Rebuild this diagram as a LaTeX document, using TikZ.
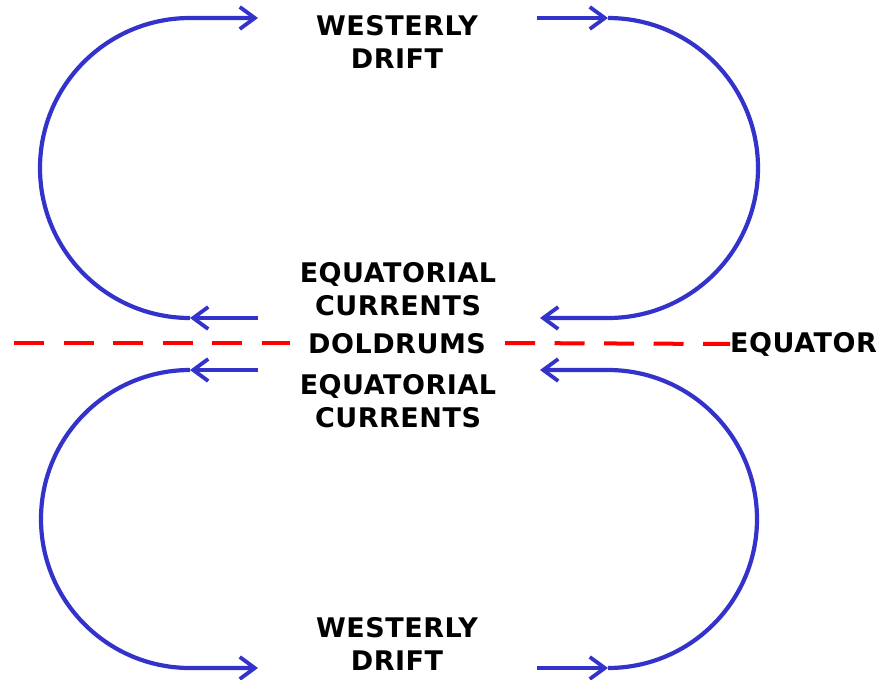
\documentclass[tikz,border=0pt]{standalone}
\usepackage{fontspec}
\usetikzlibrary{arrows.meta}
\newfontfamily\lblfont[LetterSpace=2]{DejaVu Sans}
\definecolor{current}{RGB}{51,51,204}
\definecolor{equator}{RGB}{255,0,0}
\begin{document}
\begin{tikzpicture}[x=1pt,y=-1pt,
  flow/.style={draw=current,line width=4.2pt,
    -{Straight Barb[length=15pt,width=22pt,line width=3.8pt]}},
  eqline/.style={draw=equator,line width=4pt,dash pattern=on 30pt off 19.5pt},
  lbl/.style={font=\lblfont\bfseries\fontsize{27}{33.5}\selectfont,align=center,inner sep=0pt}]
\useasboundingbox (0,0) rectangle (884,680);

% labels
\node[lbl] (wdN) at (397,42) {WESTERLY\\DRIFT};
\node[lbl] (ecN) at (398,289) {EQUATORIAL\\CURRENTS};
\node[lbl] (dold) at (397,344) {DOLDRUMS};
\node[lbl] (ecS) at (398,401) {EQUATORIAL\\CURRENTS};
\node[lbl] (wdS) at (397,644) {WESTERLY\\DRIFT};
\node[lbl,anchor=west] (eq) at (730,344) {EQUATOR};

% equator line, broken by the doldrums label
\coordinate (eqA) at (14,343);
\coordinate (eqB) at (290,343);
\coordinate (eqC) at (505,343);
\draw[eqline] (eqA) -- (eqB);
\draw[eqline] (eqC) -- (eq.west);

% northern hemisphere gyres
\coordinate (nwTop) at (190,18);   \coordinate (nwTopEnd) at (258,18);
\coordinate (nwBot) at (190,318);  \coordinate (nwBotStart) at (258,318);
\coordinate (neTopStart) at (537,18); \coordinate (neTop) at (608,18);
\coordinate (neBot) at (608,318);  \coordinate (neBotEnd) at (540,318);

\draw[flow] (nwBotStart) -- (nwBot);
\draw[flow] (nwBot) arc[start angle=90,end angle=270,radius=150] -- (nwTopEnd);
\draw[flow] (neTopStart) -- (neTop);
\draw[flow] (neTop) arc[start angle=-90,end angle=90,radius=150] -- (neBotEnd);

% southern hemisphere gyres
\coordinate (swTop) at (190,370);  \coordinate (swTopStart) at (258,370);
\coordinate (swBot) at (190,668);  \coordinate (swBotEnd) at (258,668);
\coordinate (seBotStart) at (537,668); \coordinate (seBot) at (608,668);
\coordinate (seTop) at (608,370);  \coordinate (seTopEnd) at (540,370);

\draw[flow] (swTopStart) -- (swTop);
\draw[flow] (swTop) arc[start angle=270,end angle=90,radius=149] -- (swBotEnd);
\draw[flow] (seBotStart) -- (seBot);
\draw[flow] (seBot) arc[start angle=90,end angle=-90,radius=149] -- (seTopEnd);
\end{tikzpicture}
\end{document}
